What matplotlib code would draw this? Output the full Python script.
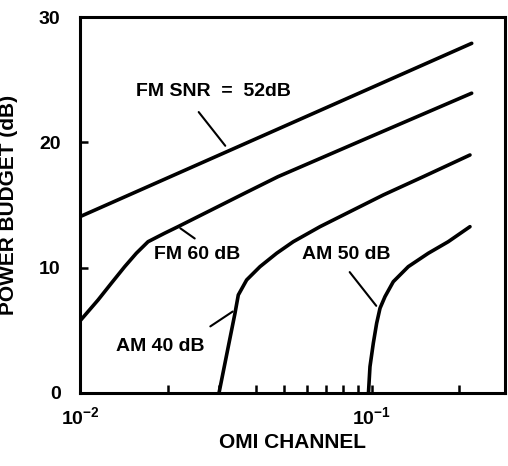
import numpy as np
import matplotlib.pyplot as plt
from matplotlib.ticker import FixedLocator, NullFormatter

plt.rcParams['font.family'] = ['Liberation Sans', 'DejaVu Sans']
plt.rcParams['font.weight'] = 'bold'
plt.rcParams['mathtext.fontset'] = 'custom'
plt.rcParams['mathtext.rm'] = 'Liberation Sans:bold'

# curves (OMI channel, power budget in dB)
fm52_x = [0.01, 0.2203]
fm52_y = [14.07, 27.9]

fm60_x = [0.01, 0.01153, 0.0128, 0.01423, 0.0156, 0.01711, 0.01951, 0.02168,
          0.02818, 0.03669, 0.04773, 0.09337, 0.2202]
fm60_y = [5.75, 7.42, 8.75, 10.08, 11.15, 12.07, 12.75, 13.27,
          14.6, 15.94, 17.26, 20.19, 23.92]

am40_x = [0.02996, 0.03224, 0.03399, 0.03489, 0.03727, 0.04141, 0.04724,
          0.05384, 0.0665, 0.08427, 0.1096, 0.1503, 0.2173]
am40_y = [0.0, 3.7, 6.36, 7.82, 9.02, 10.08, 11.15,
          12.07, 13.27, 14.47, 15.8, 17.26, 18.99]

am50_x = [0.0975, 0.09867, 0.1013, 0.104, 0.1068, 0.1111, 0.1186,
          0.1335, 0.1564, 0.183, 0.2173]
am50_y = [0.0, 2.1, 3.97, 5.56, 6.76, 7.69, 8.88,
          10.08, 11.15, 12.07, 13.27]

fig = plt.figure(figsize=(5.08, 4.66), dpi=100)
ax = fig.add_axes([0.1575, 0.1567, 0.8365, 0.8068])

for xs, ys in [(fm52_x, fm52_y), (fm60_x, fm60_y), (am40_x, am40_y), (am50_x, am50_y)]:
    ax.plot(xs, ys, color='black', lw=2.6, solid_capstyle='round', solid_joinstyle='round')

ax.set_xscale('log')
ax.set_xlim(0.01, 0.2864)
ax.set_ylim(0, 30)

ax.set_xticks([0.01, 0.1])
ax.set_xticklabels([r'$10^{-2}$', r'$10^{-1}$'])
ax.xaxis.set_minor_locator(FixedLocator([0.02, 0.03, 0.04, 0.05, 0.06, 0.07, 0.08, 0.09, 0.2]))
ax.xaxis.set_minor_formatter(NullFormatter())
ax.set_yticks([0, 10, 20, 30])

ax.tick_params(axis='both', which='major', direction='in', length=6, width=1.8, labelsize=14)
ax.tick_params(axis='y', which='major', pad=14)
ax.tick_params(axis='x', which='major', pad=10)
ax.tick_params(axis='x', which='minor', direction='in', length=6, width=1.8)
for s in ax.spines.values():
    s.set_linewidth(2.2)

ax.set_xlabel('OMI CHANNEL', fontsize=15, fontweight='bold')
ax.set_ylabel('POWER BUDGET (dB)', fontsize=15, fontweight='bold')
ax.xaxis.set_label_coords(0.5, -0.106)
ax.yaxis.set_label_coords(-0.146, 0.5)

# labels with leader lines
lbl = dict(fontsize=14, fontweight='bold', ha='center', va='center')
ax.text(0.02858, 24.02, 'FM SNR  =  52dB', **lbl)
ax.annotate('', xy=(0.03191, 19.55), xytext=(0.02518, 22.59),
            arrowprops=dict(arrowstyle='-', lw=1.5, color='black'))
ax.text(0.02518, 11.01, 'FM 60 dB', **lbl)
ax.annotate('', xy=(0.02168, 13.27), xytext=(0.02518, 12.2),
            arrowprops=dict(arrowstyle='-', lw=1.5, color='black'))
ax.text(0.0188, 3.67, 'AM 40 dB', **lbl)
ax.annotate('', xy=(0.03399, 6.62), xytext=(0.02747, 5.19),
            arrowprops=dict(arrowstyle='-', lw=1.5, color='black'))
ax.text(0.08166, 11.01, 'AM 50 dB', **lbl)
ax.annotate('', xy=(0.1051, 6.78), xytext=(0.08293, 9.82),
            arrowprops=dict(arrowstyle='-', lw=1.5, color='black'))

fig.savefig('out.png', dpi=100)
